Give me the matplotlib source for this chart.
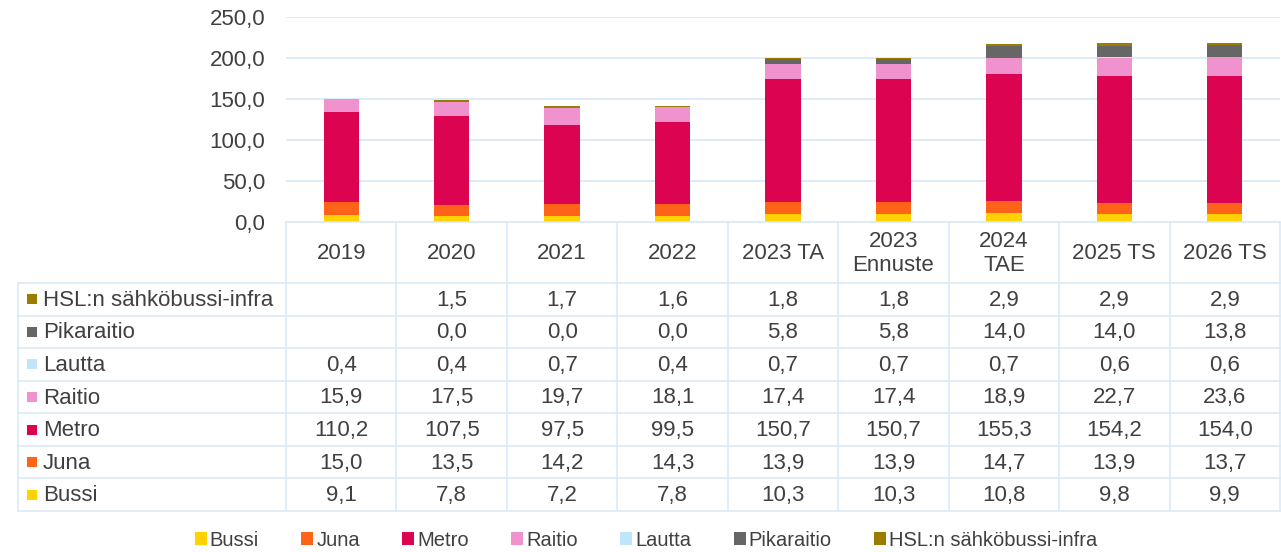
import matplotlib
matplotlib.use("Agg")
import matplotlib.pyplot as plt
from matplotlib.patches import Rectangle
import numpy as np

plt.rcParams['font.family'] = ['Liberation Sans', 'DejaVu Sans']

categories = ["2019", "2020", "2021", "2022", "2023 TA", "2023\nEnnuste", "2024\nTAE", "2025 TS", "2026 TS"]
series_names = ["Bussi", "Juna", "Metro", "Raitio", "Lautta", "Pikaraitio", "HSL:n sähköbussi-infra"]
bussi = [9.1, 7.8, 7.2, 7.8, 10.3, 10.3, 10.8, 9.8, 9.9]
juna = [15.0, 13.5, 14.2, 14.3, 13.9, 13.9, 14.7, 13.9, 13.7]
metro = [110.2, 107.5, 97.5, 99.5, 150.7, 150.7, 155.3, 154.2, 154.0]
raitio = [15.9, 17.5, 19.7, 18.1, 17.4, 17.4, 18.9, 22.7, 23.6]
lautta = [0.4, 0.4, 0.7, 0.4, 0.7, 0.7, 0.7, 0.6, 0.6]
pikaraitio = [None, 0.0, 0.0, 0.0, 5.8, 5.8, 14.0, 14.0, 13.8]
infra = [None, 1.5, 1.7, 1.6, 1.8, 1.8, 2.9, 2.9, 2.9]
series = [bussi, juna, metro, raitio, lautta, pikaraitio, infra]
colors = ["#ffd200", "#ff6319", "#dc0451", "#f092cd", "#c0e4f9", "#666666", "#9a7d00"]
yticks = [0, 50, 100, 150, 200, 250]

W, H = 1281, 552
fig = plt.figure(figsize=(W / 100, H / 100), dpi=100)

# pixel layout
plot_l, plot_r = 286, 1280
plot_t, plot_b = 17, 222
tab_l = 18
hdr_b = 283
tab_b = 511
grid_c = "#d6eaf8"
txt_c = "#404040"
fs = 16

ax = fig.add_axes([plot_l / W, 1 - plot_b / H, (plot_r - plot_l) / W, (plot_b - plot_t) / H])
x = np.arange(len(categories))
bottom = np.zeros(len(categories))
for name, vals, c in zip(series_names, series, colors):
    v = np.array([0 if a is None else a for a in vals], dtype=float)
    ax.bar(x, v, 0.32, bottom=bottom, color=c, label=name, zorder=3)
    bottom += v
ax.set_xlim(-0.5, len(categories) - 0.5)
ax.set_ylim(0, 250)
ax.set_yticks(yticks)
ax.set_yticklabels([f"{t:.1f}".replace(".", ",") for t in yticks], fontsize=fs, color=txt_c)
ax.set_xticks([])
ax.tick_params(axis='y', length=0, pad=15)
for s in ax.spines.values():
    s.set_visible(False)
ax.grid(axis='y', color=grid_c, linewidth=1.2, zorder=0)

# table overlay in pixel coordinates
tax = fig.add_axes([0, 0, 1, 1])
tax.set_xlim(0, W)
tax.set_ylim(H, 0)
tax.axis('off')
ncat = len(categories)
colw = (plot_r - plot_l) / ncat
nrow = len(series)
rowh = (tab_b - hdr_b) / nrow
lw = 1.1
tax.plot([plot_l, plot_r], [plot_b, plot_b], color=grid_c, lw=lw)
for i in range(nrow + 1):
    y = hdr_b + i * rowh
    tax.plot([tab_l, plot_r], [y, y], color=grid_c, lw=lw)
tax.plot([tab_l, tab_l], [hdr_b, tab_b], color=grid_c, lw=lw)
for j in range(ncat + 1):
    xx = plot_l + j * colw
    tax.plot([xx, xx], [plot_b, tab_b], color=grid_c, lw=lw)
for j, cat in enumerate(categories):
    tax.text(plot_l + (j + 0.5) * colw, (plot_b + hdr_b) / 2 + 1, cat, ha='center', va='center',
             fontsize=fs, color=txt_c, linespacing=1.2)
for i, idx in enumerate(range(nrow - 1, -1, -1)):
    yc = hdr_b + (i + 0.5) * rowh
    tax.add_patch(Rectangle((27, yc - 5), 10, 10, color=colors[idx], lw=0))
    tax.text(43, yc + 1, series_names[idx], ha='left', va='center', fontsize=fs, color=txt_c)
    for j, v in enumerate(series[idx]):
        if v is None:
            continue
        tax.text(plot_l + (j + 0.5) * colw, yc + 1, f"{v:.1f}".replace(".", ","), ha='center', va='center',
                 fontsize=fs, color=txt_c)

handles, labels = ax.get_legend_handles_labels()
fig.legend(handles, labels, loc='center', bbox_to_anchor=(646 / W, 1 - 540 / H), ncol=7, frameon=False,
           fontsize=14.5, handlelength=0.6, handleheight=0.6, handletextpad=0.15, columnspacing=2.1,
           labelcolor=txt_c)

fig.savefig("out.png", dpi=100)
